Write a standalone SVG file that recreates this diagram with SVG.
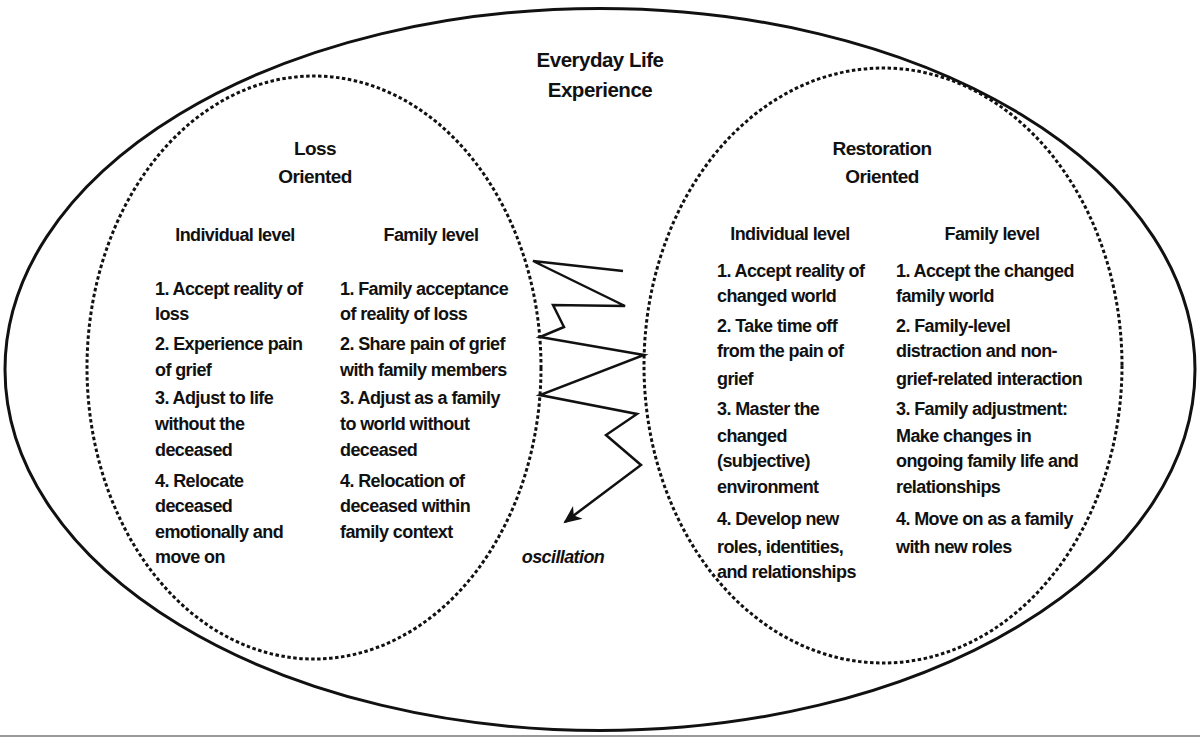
<svg xmlns="http://www.w3.org/2000/svg" width="1200" height="737" viewBox="0 0 1200 737">
<style>
text{font-family:"Liberation Sans",Arial,sans-serif;font-weight:bold;fill:#111;}
.t{font-size:20.5px;letter-spacing:-0.5px;text-anchor:middle;}
.h{font-size:19px;letter-spacing:-0.6px;text-anchor:middle;}
.s{font-size:18px;letter-spacing:-0.6px;text-anchor:middle;}
.b{font-size:18px;letter-spacing:-0.6px;}
.osc{font-size:18px;letter-spacing:-0.6px;font-style:italic;text-anchor:middle;}
.outer{fill:none;stroke:#111;stroke-width:3;}
.dash{fill:none;stroke:#111;stroke-width:3;stroke-dasharray:3.5 2.5;}
.zig{fill:none;stroke:#111;stroke-width:2.5;stroke-linejoin:miter;}
</style>
<defs>
<marker id="ah" markerUnits="userSpaceOnUse" markerWidth="30" markerHeight="30" viewBox="-20 -10 30 20" refX="0" refY="0" orient="auto">
<path d="M2,0 L-16,-8 L-11,0 L-16,8 Z" fill="#111"/>
</marker>
</defs>
<rect x="0" y="0" width="1200" height="737" fill="#fff"/>
<rect x="0" y="735" width="1200" height="2" fill="#999"/>
<g id="everyday-life">
<ellipse class="outer" cx="600" cy="369.5" rx="595" ry="361"/>
<text class="t" x="600" y="67">Everyday Life</text>
<text class="t" x="600" y="97">Experience</text>
</g>
<g id="loss-oriented">
<ellipse class="dash" cx="314" cy="367.5" rx="227" ry="291.5"/>
<text class="h" x="315" y="155">Loss</text>
<text class="h" x="315" y="183">Oriented</text>
<text class="s" x="235" y="241">Individual level</text>
<text class="s" x="431" y="241">Family level</text>
<text class="b" x="155" y="295">1. Accept reality of</text>
<text class="b" x="155" y="320">loss</text>
<text class="b" x="155" y="350">2. Experience pain</text>
<text class="b" x="155" y="376">of grief</text>
<text class="b" x="155" y="404">3. Adjust to life</text>
<text class="b" x="155" y="430">without the</text>
<text class="b" x="155" y="456">deceased</text>
<text class="b" x="155" y="487">4. Relocate</text>
<text class="b" x="155" y="512">deceased</text>
<text class="b" x="155" y="538">emotionally and</text>
<text class="b" x="155" y="563">move on</text>
<text class="b" x="340" y="295">1. Family acceptance</text>
<text class="b" x="340" y="320">of reality of loss</text>
<text class="b" x="340" y="350">2. Share pain of grief</text>
<text class="b" x="340" y="376">with family members</text>
<text class="b" x="340" y="404">3. Adjust as a family</text>
<text class="b" x="340" y="430">to world without</text>
<text class="b" x="340" y="456">deceased</text>
<text class="b" x="340" y="487">4. Relocation of</text>
<text class="b" x="340" y="512">deceased within</text>
<text class="b" x="340" y="538">family context</text>
</g>
<g id="restoration-oriented">
<ellipse class="dash" cx="883" cy="365.5" rx="239" ry="297.5"/>
<text class="h" x="882" y="155">Restoration</text>
<text class="h" x="882" y="183">Oriented</text>
<text class="s" x="790" y="240">Individual level</text>
<text class="s" x="992" y="240">Family level</text>
<text class="b" x="717" y="277">1. Accept reality of</text>
<text class="b" x="717" y="302">changed world</text>
<text class="b" x="717" y="332">2. Take time off</text>
<text class="b" x="717" y="357">from the pain of</text>
<text class="b" x="717" y="385">grief</text>
<text class="b" x="717" y="415">3. Master the</text>
<text class="b" x="717" y="442">changed</text>
<text class="b" x="717" y="467">(subjective)</text>
<text class="b" x="717" y="493">environment</text>
<text class="b" x="717" y="525">4. Develop new</text>
<text class="b" x="717" y="553">roles, identities,</text>
<text class="b" x="717" y="578">and relationships</text>
<text class="b" x="896" y="277">1. Accept the changed</text>
<text class="b" x="896" y="302">family world</text>
<text class="b" x="896" y="332">2. Family-level</text>
<text class="b" x="896" y="357">distraction and non-</text>
<text class="b" x="896" y="385">grief-related interaction</text>
<text class="b" x="896" y="415">3. Family adjustment:</text>
<text class="b" x="896" y="442">Make changes in</text>
<text class="b" x="896" y="467">ongoing family life and</text>
<text class="b" x="896" y="493">relationships</text>
<text class="b" x="896" y="525">4. Move on as a family</text>
<text class="b" x="896" y="553">with new roles</text>
</g>
<g id="connectors">
<polyline class="zig" marker-end="url(#ah)" points="623,271 533,261 625,306 553,305 564,327 540,337 644,355 540,395 637,414 606,435 641,465 565,522"/>
</g>
<g id="oscillation-label">
<text class="osc" x="563" y="563">oscillation</text>
</g>
</svg>
